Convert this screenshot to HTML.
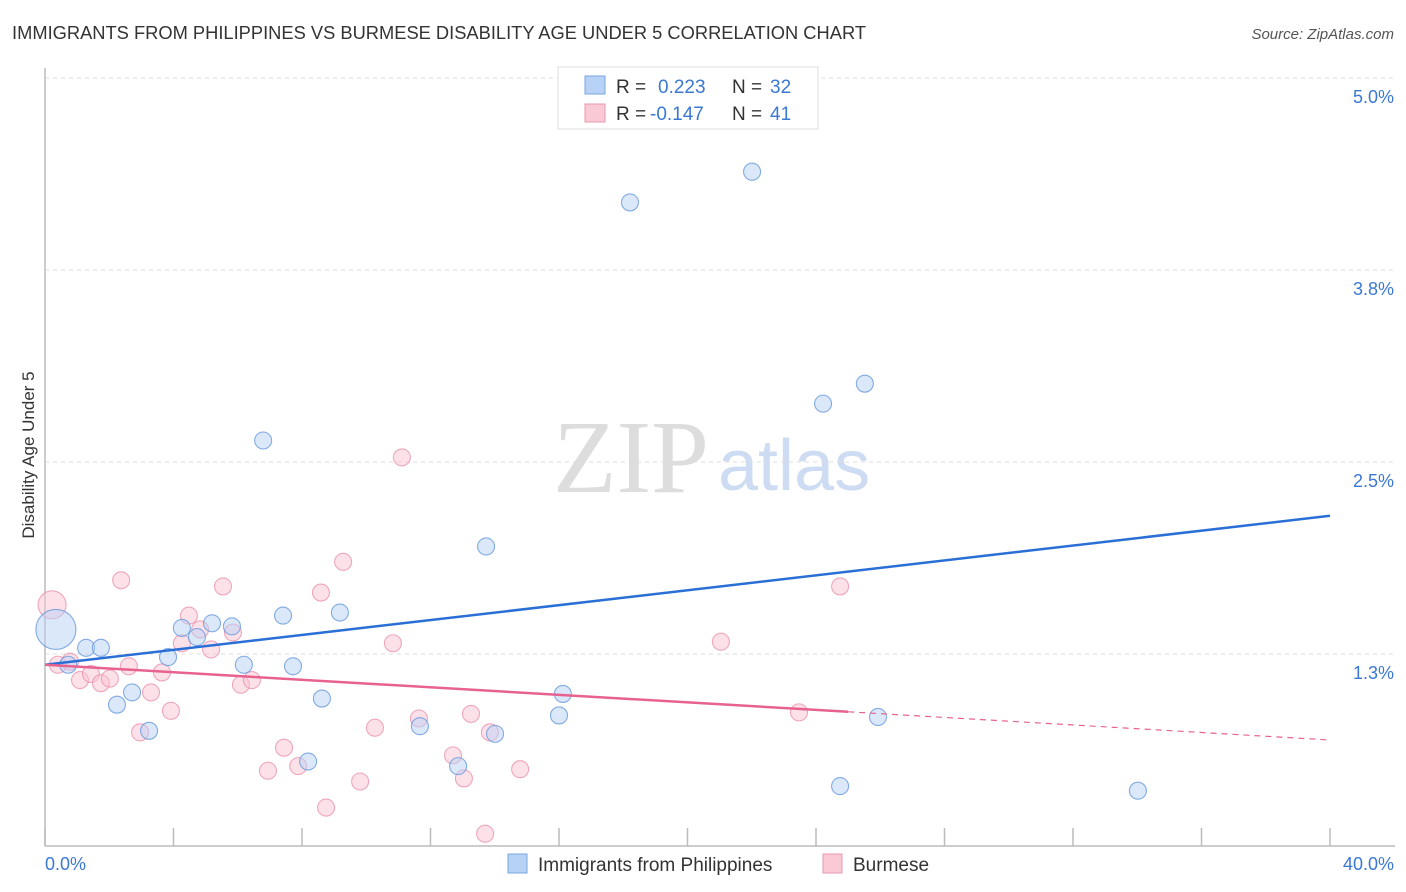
<!DOCTYPE html>
<html><head><meta charset="utf-8"><style>
body{margin:0;background:#fff;font-family:"Liberation Sans",sans-serif;}
svg{display:block}
</style></head><body>
<svg width="1406" height="892">
<text x="12" y="39" font-size="18" fill="#333" textLength="854" lengthAdjust="spacingAndGlyphs">IMMIGRANTS FROM PHILIPPINES VS BURMESE DISABILITY AGE UNDER 5 CORRELATION CHART</text>
<text x="1394" y="39" font-size="15" fill="#555" text-anchor="end" font-style="italic">Source: ZipAtlas.com</text>
<text x="553" y="492" font-size="104" fill="#ddd" font-family="Liberation Serif,serif">ZIP</text>
<text x="718" y="490" font-size="72" fill="#cddcf2">atlas</text>
<g id="grid"></g>
<line x1="45" y1="68" x2="45" y2="846" stroke="#bbb" stroke-width="1.5"/>
<line x1="45" y1="846" x2="1395" y2="846" stroke="#bbb" stroke-width="1.5"/>
<g id="ticks"></g>
<text x="34" y="455" font-size="17" fill="#333" text-anchor="middle" transform="rotate(-90 34 455)">Disability Age Under 5</text>
<text x="45" y="870" font-size="18" fill="#3a78d4">0.0%</text>
<text x="1394" y="870" font-size="18" fill="#3a78d4" text-anchor="end">40.0%</text>
<g id="pts"></g>
<g id="lines"></g>
<g>
<rect x="558" y="67" width="260" height="62" fill="#fff" stroke="#ddd"/>
<rect x="585" y="76" width="20" height="18" fill="#b7d2f5" stroke="#7aa6e0"/>
<text x="616" y="93" font-size="19" fill="#333">R = </text><text x="658" y="93" font-size="19" fill="#3a78d4">0.223</text>
<text x="732" y="93" font-size="19" fill="#333">N = </text><text x="770" y="93" font-size="19" fill="#3a78d4">32</text>
<rect x="585" y="104" width="20" height="18" fill="#f9c9d6" stroke="#e899b0"/>
<text x="616" y="120" font-size="19" fill="#333">R = </text><text x="650" y="120" font-size="19" fill="#3a78d4">-0.147</text>
<text x="732" y="120" font-size="19" fill="#333">N = </text><text x="770" y="120" font-size="19" fill="#3a78d4">41</text>
</g>
<g>
<rect x="508" y="854" width="19" height="19" fill="#b7d2f5" stroke="#7aa6e0"/>
<text x="538" y="871" font-size="19" fill="#333">Immigrants from Philippines</text>
<rect x="823" y="854" width="19" height="19" fill="#f9c9d6" stroke="#e899b0"/>
<text x="853" y="871" font-size="19" fill="#333">Burmese</text>
</g>
</svg>
<script>
const yTicks=[1.25,2.5,3.75,5.0];
const yTickLabels=["1.3%","2.5%","3.8%","5.0%"];
const xTicks=[0,4,8,12,16,20,24,28,32,36,40];
const blueX=[0.34,0.72,1.28,1.74,2.24,2.71,3.24,3.83,4.26,4.73,5.20,5.82,6.19,6.79,7.41,7.72,8.19,8.62,9.18,11.67,12.86,13.73,14.01,16.00,16.12,18.21,22.01,24.22,25.52,25.93,24.75,34.02];
const blueY=[1.41,1.18,1.29,1.29,0.92,1.00,0.75,1.23,1.42,1.36,1.45,1.43,1.18,2.64,1.50,1.17,0.55,0.96,1.52,0.78,0.52,1.95,0.73,0.85,0.99,4.19,4.39,2.88,3.01,0.84,0.39,0.36];
const pinkX=[0.22,0.40,0.78,1.09,1.43,1.74,2.02,2.37,2.61,2.96,3.30,3.64,3.92,4.26,4.48,4.83,5.17,5.54,5.85,6.10,6.44,6.94,7.44,7.88,8.59,8.75,9.28,9.81,10.27,10.83,11.11,11.64,12.70,13.04,13.26,13.70,13.85,14.79,21.04,23.47,24.75];
const pinkY=[1.57,1.18,1.20,1.08,1.12,1.06,1.09,1.73,1.17,0.74,1.00,1.13,0.88,1.32,1.50,1.41,1.28,1.69,1.39,1.05,1.08,0.49,0.64,0.52,1.65,0.25,1.85,0.42,0.77,1.32,2.53,0.83,0.59,0.44,0.86,0.08,0.74,0.50,1.33,0.87,1.69];
const blueTrend=[1.18,2.15];
const pinkTrend=[1.18,0.69];
const pinkSolidEnd=25;
const NS="http://www.w3.org/2000/svg";
const xs=v=>45+v/40*1285;
const ys=v=>846-v*153.6;
function mk(t,a){const e=document.createElementNS(NS,t);for(const k in a)e.setAttribute(k,a[k]);return e;}
const grid=document.getElementById('grid');
yTicks.forEach((t,i)=>{
 const l=mk('line',{x1:45,x2:1395,y1:ys(t),y2:ys(t),stroke:'#ddd','stroke-dasharray':'4,4'});
 
 
 grid.appendChild(l);
 const tx=mk('text',{x:1394,y:ys(t)+25,'font-size':18,fill:'#3a78d4','text-anchor':'end'});
 tx.textContent=yTickLabels[i];
 
 
 grid.appendChild(tx);
});
const tk=document.getElementById('ticks');
xTicks.forEach(t=>{
 const l=mk('line',{x1:xs(t),x2:xs(t),y1:828,y2:846,stroke:'#bbb','stroke-width':1.5});
 
 
 tk.appendChild(l);
});
const pts=document.getElementById('pts');
function dot(x,y,i,fill,stroke,name){
 let r=8.5;
 if(i===0) r=name==='blue-point'?20:14;
 const c=mk('circle',{cx:xs(x),cy:ys(y),r:r,fill:fill,'fill-opacity':0.5,stroke:stroke,'stroke-opacity':0.8,'stroke-width':1.1});
 
 
 pts.appendChild(c);
}
pinkX.forEach((x,i)=>dot(x,pinkY[i],i,'#f9c4d3','#ea93ae','pink-point'));
blueX.forEach((x,i)=>dot(x,blueY[i],i,'#b7d2f5','#6698dc','blue-point'));
const ln=document.getElementById('lines');
const bl=mk('line',{x1:xs(0),y1:ys(blueTrend[0]),x2:xs(40),y2:ys(blueTrend[1]),stroke:'#2a6fd6','stroke-width':2.5});


ln.appendChild(bl);
const pv=x=>pinkTrend[0]+(pinkTrend[1]-pinkTrend[0])*x/40;
const pl=mk('line',{x1:xs(0),y1:ys(pv(0)),x2:xs(pinkSolidEnd),y2:ys(pv(pinkSolidEnd)),stroke:'#e8628f','stroke-width':2.5});


ln.appendChild(pl);
const pd=mk('line',{x1:xs(pinkSolidEnd),y1:ys(pv(pinkSolidEnd)),x2:xs(40),y2:ys(pv(40)),stroke:'#e8628f','stroke-width':1.2,'stroke-dasharray':'6,5'});


ln.appendChild(pd);
</script>
</body></html>
